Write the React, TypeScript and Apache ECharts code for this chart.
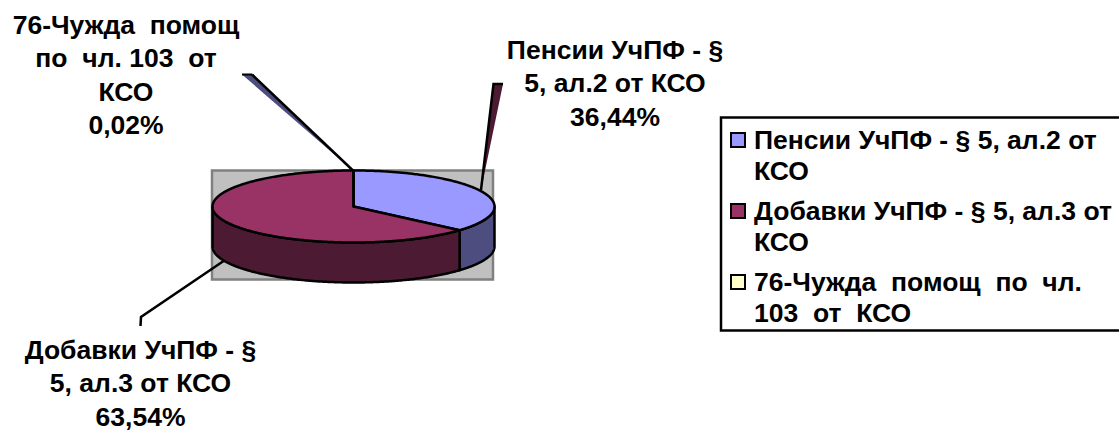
import React, { useEffect, useRef } from "react";
import * as echarts from "echarts";

const seriesNames = [
  "Пенсии УчПФ - § 5, ал.2 от КСО",
  "Добавки УчПФ - § 5, ал.3 от КСО",
  "76-Чужда  помощ по  чл. 103  от  КСО",
];
const shareValues = [36.44, 63.54, 0.02];
const topColors = ["#9999FF", "#993366", "#FFFFCC"];
const sideColors = ["#4D4D80", "#4D1A33", "#808066"];
const legendLines = [
  "\nПенсии УчПФ - § 5, ал.2 от\nКСО",
  "\nДобавки УчПФ - § 5, ал.3 от\nКСО",
  "\n76-Чужда  помощ  по  чл.\n103  от  КСО",
];
const labelLines = [
  ["Пенсии УчПФ - §", "5, ал.2 от КСО"],
  ["Добавки УчПФ - §", "5, ал.3 от КСО"],
  ["76-Чужда  помощ", "по  чл. 103  от", "КСО"],
];
const labelCenters = [
  [615, 33],
  [140.5, 333],
  [126, 8],
];

const FONT = "Liberation Sans";
const FONT_SIZE = 26.5;
const LINE = 2.5;
const PIE = { cx: 353.5, cy: 206.5, rx: 141, ry: 36, depth: 40 };
const total = shareValues.reduce((a, b) => a + b, 0);

const arcPoint = (deg: number, dy = 0) => {
  const r = (deg * Math.PI) / 180;
  return [PIE.cx + PIE.rx * Math.sin(r), PIE.cy - PIE.ry * Math.cos(r) + dy];
};
const arcPoints = (a0: number, a1: number, dy = 0) => {
  const n = Math.max(2, Math.ceil(Math.abs(a1 - a0) * 1.5));
  const pts: number[][] = [];
  for (let i = 0; i <= n; i++) pts.push(arcPoint(a0 + ((a1 - a0) * i) / n, dy));
  return pts;
};

const sliceRenderer = (index: number) => (_params: any, api: any) => {
  const before = shareValues.slice(0, index).reduce((a, b) => a + b, 0);
  const a0 = (before / total) * 360;
  const a1 = a0 + (api.value(0) / total) * 360;
  const stroke = { stroke: "#000", lineWidth: LINE, lineJoin: "round" };
  const children: any[] = [];
  const s0 = Math.max(a0, 90);
  const s1 = Math.min(a1, 270);
  if (s1 > s0) {
    children.push({
      type: "polygon",
      shape: { points: [...arcPoints(s0, s1), ...arcPoints(s1, s0, PIE.depth)] },
      style: { fill: sideColors[index], ...stroke },
    });
  }
  children.push({
    type: "polygon",
    shape: { points: [[PIE.cx, PIE.cy], ...arcPoints(a0, a1)] },
    style: { fill: topColors[index], ...stroke },
  });
  return { type: "group", children };
};

const percent = (v: number) => v.toFixed(2).replace(".", ",") + "%";

export default function App() {
  const ref = useRef<HTMLDivElement>(null);
  useEffect(() => {
    document.body.style.margin = "0";
    const chart = echarts.init(ref.current!, undefined, { renderer: "svg" });
    const labels = labelLines.map((lines, i) => ({
      type: "text",
      z: 6,
      x: labelCenters[i][0],
      y: labelCenters[i][1],
      style: {
        text: [...lines, percent(shareValues[i])].join("\n"),
        font: `bold ${FONT_SIZE}px "${FONT}"`,
        fill: "#000",
        align: "center",
        verticalAlign: "top",
        lineHeight: 33.5,
      },
    }));
    chart.setOption({
      animation: false,
      backgroundColor: "#fff",
      graphic: [
        {
          type: "rect",
          z: 0,
          shape: { x: 212, y: 170.5, width: 281, height: 109 },
          style: { fill: "#C0C0C0", stroke: "#808080", lineWidth: 2.5 },
        },
        {
          type: "polyline",
          z: 1,
          shape: { points: [[140.5, 326], [141, 317], [228, 258]] },
          style: { stroke: "#000", lineWidth: LINE, fill: "none" },
        },
        {
          type: "polygon",
          z: 1,
          shape: { points: [[242, 74.5], [252, 74.5], [353.5, 171]] },
          style: { fill: "#4D4D80", stroke: "none" },
        },
        {
          type: "polyline",
          z: 1,
          shape: { points: [[252, 74.5], [353.5, 171]] },
          style: { stroke: "#000", lineWidth: LINE, fill: "none" },
        },
        {
          type: "line",
          z: 1,
          shape: { x1: 242, y1: 74.5, x2: 252, y2: 74.5 },
          style: { stroke: "#000", lineWidth: 2 },
        },
        {
          type: "polygon",
          z: 1,
          shape: { points: [[493.5, 84], [503, 84], [481, 190]] },
          style: { fill: "#4D1A33", stroke: "none" },
        },
        {
          type: "polyline",
          z: 1,
          shape: { points: [[503, 84], [493.5, 84], [481, 190]] },
          style: { stroke: "#000", lineWidth: LINE, fill: "none" },
        },
        {
          type: "rect",
          z: 1,
          shape: { x: 721, y: 117.5, width: 420, height: 213 },
          style: { fill: "#fff", stroke: "#000", lineWidth: LINE },
        },
        ...labels,
      ],
      legend: {
        orient: "vertical",
        left: 730,
        top: 93.5,
        padding: 0,
        selectedMode: false,
        z: 5,
        itemWidth: 14,
        itemHeight: 14,
        itemGap: -22,
        icon: "rect",
        itemStyle: { borderColor: "#000", borderWidth: 2 },
        data: seriesNames,
        formatter: (name: string) => legendLines[seriesNames.indexOf(name)],
        textStyle: {
          fontFamily: FONT,
          fontWeight: "bold",
          fontSize: FONT_SIZE,
          lineHeight: 31,
          color: "#000",
          padding: [0, 0, 0, 4],
        },
      },
      series: seriesNames.map((name, i) => ({
        type: "custom",
        name,
        coordinateSystem: "none",
        z: 3,
        silent: true,
        itemStyle: { color: topColors[i] },
        data: [[shareValues[i]]],
        renderItem: sliceRenderer(i),
      })),
    });
    return () => chart.dispose();
  }, []);
  return <div ref={ref} style={{ width: 1119, height: 432 }} />;
}
